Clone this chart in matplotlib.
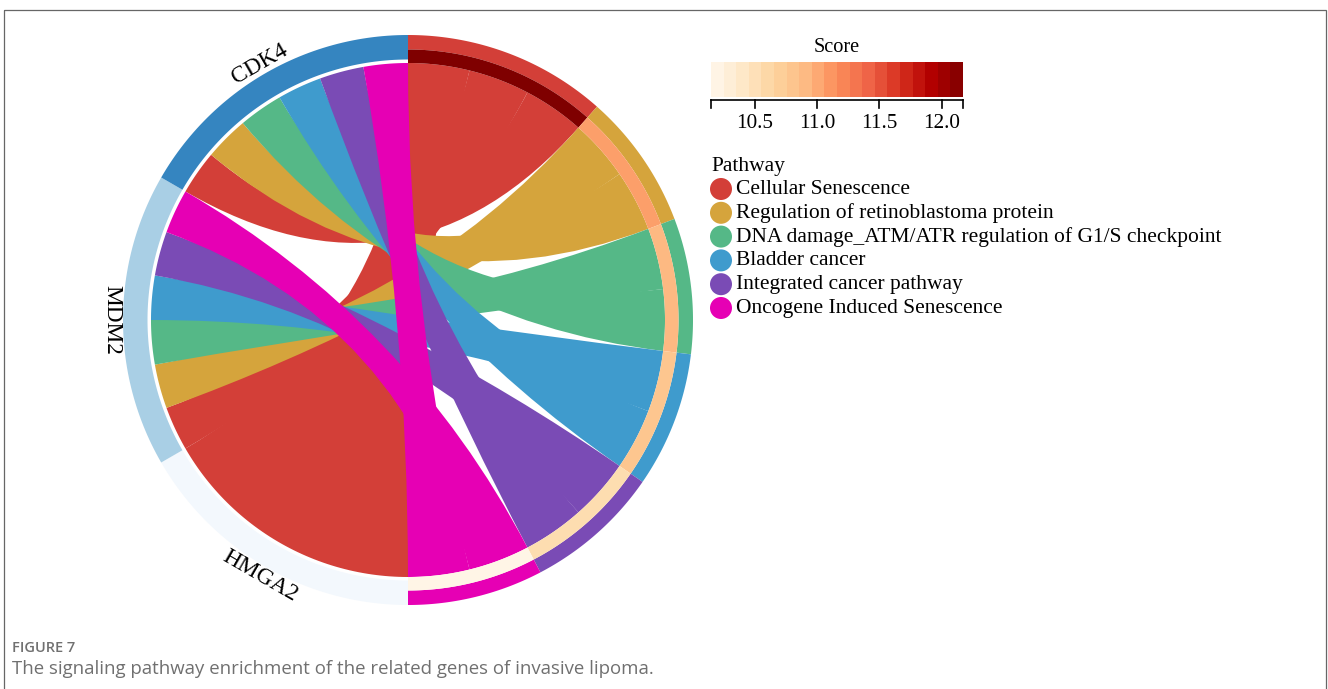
import numpy as np
import matplotlib
matplotlib.use("Agg")
import matplotlib.pyplot as plt
from matplotlib.path import Path
from matplotlib.patches import PathPatch, Polygon, Circle, Rectangle

# pathways and the genes enriched in each one
pathways = ["Cellular Senescence",
            "Regulation of retinoblastoma protein",
            "DNA damage_ATM/ATR regulation of G1/S checkpoint",
            "Bladder cancer",
            "Integrated cancer pathway",
            "Oncogene Induced Senescence"]
pathway_colors = ["#d33f38", "#d5a43c", "#55b887", "#3f9bcd", "#7a4bb5", "#e600b4"]
scores = [12.17, 11.06, 10.92, 10.80, 10.55, 10.19]
members = [["HMGA2", "MDM2", "CDK4"],
           ["MDM2", "CDK4"],
           ["MDM2", "CDK4"],
           ["MDM2", "CDK4"],
           ["MDM2", "CDK4"],
           ["MDM2", "CDK4"]]

genes = ["HMGA2", "MDM2", "CDK4"]
gene_colors = ["#f3f8fd", "#a9cfe5", "#3585c0"]

score_min, score_max = 10.15, 12.17
score_ticks = [10.5, 11.0, 11.5, 12.0]
n_cells = 20

SERIF = "Liberation Serif"
cmap = plt.get_cmap("OrRd")

# circle geometry (pixel units)
CX, CY = 408, 320
R_OUT, R_MID, R_IN, R_GENE = 285, 270.5, 257, 260.5


def pt(theta, r):
    # theta: degrees clockwise from 12 o'clock
    t = np.radians(theta)
    return CX + r * np.sin(t), CY - r * np.cos(t)


def arc(a0, a1, r, n=60):
    th = np.linspace(a0, a1, n)
    return [pt(t, r) for t in th]


def ring(ax, a0, a1, r0, r1, color):
    verts = arc(a0, a1, r1) + arc(a1, a0, r0)
    ax.add_patch(Polygon(verts, closed=True, facecolor=color, edgecolor="none"))


def ribbon(ax, s0, s1, t0, t1, color):
    verts, codes = [], []
    a = arc(s0, s1, R_IN)
    verts += a
    codes += [Path.MOVETO] + [Path.LINETO] * (len(a) - 1)
    verts += [(CX, CY), pt(t0, R_IN)]
    codes += [Path.CURVE3, Path.CURVE3]
    b = arc(t0, t1, R_IN)[1:]
    verts += b
    codes += [Path.LINETO] * len(b)
    verts += [(CX, CY), pt(s0, R_IN), pt(s0, R_IN)]
    codes += [Path.CURVE3, Path.CURVE3, Path.CLOSEPOLY]
    ax.add_patch(PathPatch(Path(verts, codes), facecolor=color,
                           edgecolor="none", antialiased=True))


fig = plt.figure(figsize=(13.28, 6.89), dpi=100)
ax = fig.add_axes([0, 0, 1, 1])
ax.set_xlim(0, 1328)
ax.set_ylim(689, 0)
ax.axis("off")

# angular layout: pathways on the right half, genes on the left half
n_links = sum(len(m) for m in members)
unit = 180.0 / n_links
path_spans, path_sub = [], []
start = 0.0
for k, m in enumerate(members):
    end = start + unit * len(m)
    path_spans.append((start, end))
    path_sub.append({g: (start + i * unit, start + (i + 1) * unit) for i, g in enumerate(m)})
    start = end

gene_spans, gene_sub = [], []
for g_i, g in enumerate(genes):
    g0 = 180 + 60 * g_i
    linked = [k for k, m in enumerate(members) if g in m]
    w = 60.0 / len(linked)
    gene_spans.append((g0, g0 + 60))
    gene_sub.append({k: (g0 + i * w, g0 + (i + 1) * w) for i, k in enumerate(linked)})

# chords
for k, m in enumerate(members):
    for g in m:
        s0, s1 = path_sub[k][g]
        t0, t1 = gene_sub[genes.index(g)][k]
        ribbon(ax, s0, s1, t0, t1, pathway_colors[k])

# outer rings
for k, (a0, a1) in enumerate(path_spans):
    ring(ax, a0, a1, R_MID, R_OUT, pathway_colors[k])
    val = (scores[k] - score_min) / (score_max - score_min)
    ring(ax, a0, a1, R_IN, R_MID, cmap(val))
for g_i, (a0, a1) in enumerate(gene_spans):
    ring(ax, a0, a1, R_GENE, R_OUT, gene_colors[g_i])
    mid = (a0 + a1) / 2
    x, y = pt(mid, 296)
    rot = (90 - mid) % 360 - 90
    if mid <= 270:
        rot -= 180
    ax.text(x, y, genes[g_i], family=SERIF, fontsize=16.8, rotation=rot,
            rotation_mode="anchor", ha="center", va="center")

# score colour legend
bx0, bx1, by0, by1 = 711, 963, 62, 97
cw = (bx1 - bx0) / n_cells
for i in range(n_cells):
    ax.add_patch(Rectangle((bx0 + i * cw, by0), cw, by1 - by0,
                           facecolor=cmap((i + 0.5) / n_cells), edgecolor="none"))
ax.text((bx0 + bx1) / 2, 48, "Score", family=SERIF, fontsize=14.6,
        ha="center", va="center")
ax.plot([bx0, bx1], [100, 100], color="black", lw=1.2)


def sx(v):
    return bx0 + (v - score_min) / (score_max - score_min) * (bx1 - bx0)


for xt in [bx0, bx1] + [sx(v) for v in score_ticks]:
    ax.plot([xt, xt], [100, 108], color="black", lw=1.2)
for v in score_ticks:
    ax.text(sx(v), 124, f"{v:.1f}", family=SERIF, fontsize=15.2,
            ha="center", va="center")

# pathway legend
ax.text(711, 166, "Pathway", family=SERIF, fontsize=15.5, ha="left", va="center")
for k, name in enumerate(pathways):
    y = 189 + k * 23.8
    ax.add_patch(Circle((721, y), 11, facecolor=pathway_colors[k], edgecolor="none"))
    ax.text(736, y, name, family=SERIF, fontsize=15.5, ha="left", va="center")

# frame and caption
ax.add_patch(Rectangle((4, 10), 1322, 700, facecolor="none",
                       edgecolor="#666666", lw=0.9))
ax.text(12, 648, "FIGURE 7", family="Open Sans", fontsize=10.5,
        fontweight="semibold", color="#707070", ha="left", va="center")
ax.text(12, 669, "The signaling pathway enrichment of the related genes of invasive lipoma.",
        family="Open Sans", fontsize=13.4, color="#707070", ha="left", va="center")

fig.savefig("out.png", dpi=100)
